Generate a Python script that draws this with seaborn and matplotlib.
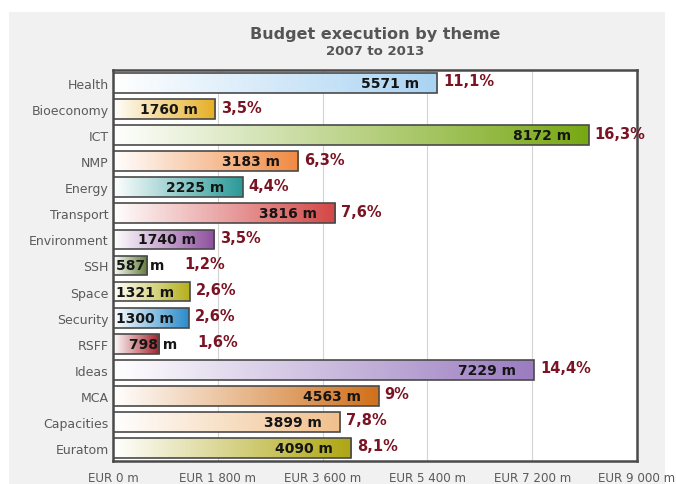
#!/usr/bin/env python3
"""Budget execution by theme, 2007 to 2013 - horizontal gradient bars."""

import os
import tempfile
from pathlib import Path

os.environ.setdefault("MPLBACKEND", "Agg")
os.environ.setdefault("MPLCONFIGDIR", str(Path(tempfile.gettempdir()) / "mpl-budget"))

import matplotlib.pyplot as plt
import numpy as np
import pandas as pd
import seaborn as sns
from matplotlib.colors import LinearSegmentedColormap
from matplotlib.patches import Rectangle

themes = ["Health", "Bioeconomy", "ICT", "NMP", "Energy", "Transport", "Environment",
          "SSH", "Space", "Security", "RSFF", "Ideas", "MCA", "Capacities", "Euratom"]
budget_m = [5571, 1760, 8172, 3183, 2225, 3816, 1740, 587, 1321, 1300, 798, 7229, 4563, 3899, 4090]
share_labels = ["11,1%", "3,5%", "16,3%", "6,3%", "4,4%", "7,6%", "3,5%", "1,2%", "2,6%",
                "2,6%", "1,6%", "14,4%", "9%", "7,8%", "8,1%"]
tick_values = [0, 1800, 3600, 5400, 7200, 9000]
tick_labels = ["EUR 0 m", "EUR 1 800 m", "EUR 3 600 m", "EUR 5 400 m", "EUR 7 200 m", "EUR 9 000 m"]

bar_colors = ["#a9d3f3", "#e6ae22", "#78a814", "#f08a42", "#2a9a98", "#d44646", "#8e4f9e",
              "#5f7a34", "#b4b01c", "#2a8ccc", "#a42028", "#9a7cc0", "#d0701a", "#f0c08c", "#aea612"]

df = pd.DataFrame({"theme": themes, "budget": budget_m})

sns.set_theme(style="white")
plt.rcParams["font.family"] = ["DejaVu Sans"]

fig = plt.figure(figsize=(6.76, 4.85), dpi=100)
fig.patch.set_facecolor("white")
fig.patches.append(Rectangle((9 / 676, 0), 656 / 676, 1 - 13 / 485, transform=fig.transFigure,
                             facecolor="#f1f1f1", edgecolor="none", zorder=-10))

ax = fig.add_axes([113 / 676, 1 - 462 / 485, 524 / 676, 391 / 485])
sns.barplot(data=df, y="theme", x="budget", hue="theme", palette=bar_colors,
            width=0.76, legend=False, ax=ax, orient="h")

ax.set_xlim(0, 9000)
ylim = ax.get_ylim()

# white -> colour gradient inside each bar
for patch, color in zip(ax.patches, bar_colors):
    x0, y0 = patch.get_x(), patch.get_y()
    w, h = patch.get_width(), patch.get_height()
    cmap = LinearSegmentedColormap.from_list("g", ["white", color])
    grad = np.linspace(0, 1, 256).reshape(1, -1)
    im = ax.imshow(grad, cmap=cmap, extent=[x0, x0 + w, y0 + h, y0], aspect="auto",
                   interpolation="bilinear", zorder=2)
    im.set_clip_path(patch)
    patch.set_facecolor("none")
    patch.set_edgecolor("#4a4a4a")
    patch.set_linewidth(1.2)
    patch.set_zorder(3)

ax.set_xlim(0, 9000)
ax.set_ylim(ylim)
ax.set_facecolor("white")

ax.set_xticks(tick_values)
ax.set_xticklabels(tick_labels)
ax.xaxis.grid(True, color="#d4d4d4", linewidth=0.8)
ax.set_axisbelow(True)
ax.tick_params(axis="x", length=0, pad=7, labelsize=8.6, labelcolor="#5a5a5a")
ax.tick_params(axis="y", length=0, pad=3, labelsize=9.0, labelcolor="#5a5a5a")
ax.set_xlabel("")
ax.set_ylabel("")
for spine in ax.spines.values():
    spine.set_visible(True)
    spine.set_color("#4a4a4a")
    spine.set_linewidth(1.8)

fig.canvas.draw()
renderer = fig.canvas.get_renderer()
px = 9000 / 524  # data units per pixel

for i, (val, share) in enumerate(zip(budget_m, share_labels)):
    if val < 1400:
        start = 3 * px if val > 1000 or val < 700 else 16 * px
        t = ax.text(start, i, f"{val} m", ha="left", va="center", fontsize=10,
                    fontweight="bold", color="#151515", zorder=5)
        bb = t.get_window_extent(renderer).transformed(ax.transData.inverted())
        end = max(val, bb.x1)
        gap = 20 * px if bb.x1 > val else 6 * px
    else:
        ax.text(val - 18 * px, i, f"{val} m", ha="right", va="center", fontsize=10,
                fontweight="bold", color="#151515", zorder=5)
        end = val
        gap = 6 * px
    ax.text(end + gap, i - 0.08, share, ha="left", va="center", fontsize=10.5,
            fontweight="bold", color="#7a1424", zorder=5)

fig.text(375 / 676, 1 - 35 / 485, "Budget execution by theme", ha="center", va="center",
         fontsize=11.5, fontweight="bold", color="#555555")
fig.text(375 / 676, 1 - 52 / 485, "2007 to 2013", ha="center", va="center",
         fontsize=9.5, fontweight="bold", color="#555555")

fig.savefig("out.png", dpi=100, facecolor=fig.get_facecolor())
plt.close(fig)
